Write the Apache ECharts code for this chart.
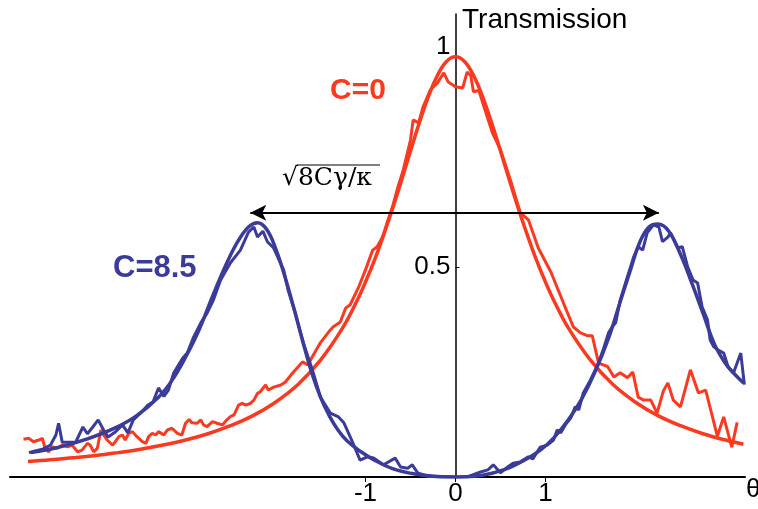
<!DOCTYPE html>
<html><head><meta charset="utf-8">
<script src="https://cdn.jsdelivr.net/npm/echarts@6/dist/echarts.min.js"></script>
<style>html,body{margin:0;padding:0;background:#fff}#c{width:758px;height:509px}</style>
</head><body><div id="c"></div>
<script>
// ---- data ----
const redFitTheta = [-4.75,-4.5,-4.25,-4.0,-3.75,-3.5,-3.25,-3.0,-2.75,-2.5,-2.25,-2.0,-1.75,-1.5,-1.25,-1.1,-1.0,-0.9,-0.8,-0.7,-0.6,-0.5,-0.4,-0.3,-0.2,-0.1,0,0.1,0.2,0.3,0.4,0.5,0.6,0.7,0.8,0.9,1.0,1.1,1.25,1.5,1.75,2.0,2.25,2.5,2.75,3.0,3.2];
const redFitT = [0.037,0.041,0.046,0.051,0.058,0.066,0.076,0.088,0.103,0.122,0.146,0.178,0.220,0.278,0.356,0.417,0.464,0.516,0.575,0.638,0.706,0.776,0.844,0.906,0.956,0.989,1.0,0.989,0.956,0.906,0.844,0.776,0.706,0.638,0.575,0.516,0.464,0.417,0.356,0.278,0.220,0.178,0.146,0.122,0.103,0.088,0.078];

const redDataTheta = [-4.80,-4.74,-4.69,-4.63,-4.59,-4.56,-4.52,-4.48,-4.43,-4.37,-4.31,-4.26,-4.20,-4.15,-4.09,-4.06,-4.02,-3.98,-3.94,-3.91,-3.87,-3.81,-3.78,-3.74,-3.70,-3.67,-3.63,-3.59,-3.54,-3.48,-3.44,-3.41,-3.37,-3.33,-3.30,-3.24,-3.20,-3.15,-3.09,-3.04,-3.00,-2.96,-2.93,-2.87,-2.83,-2.80,-2.76,-2.70,-2.65,-2.59,-2.54,-2.50,-2.46,-2.41,-2.37,-2.33,-2.28,-2.24,-2.20,-2.17,-2.11,-2.08,-2.02,-1.94,-1.89,-1.80,-1.70,-1.64,-1.59,-1.50,-1.41,-1.36,-1.28,-1.22,-1.17,-1.08,-1.00,-0.92,-0.87,-0.81,-0.76,-0.70,-0.64,-0.58,-0.50,-0.47,-0.41,-0.36,-0.28,-0.20,-0.13,-0.08,0,0.08,0.13,0.17,0.20,0.26,0.31,0.41,0.50,0.61,0.72,0.81,0.92,1.06,1.20,1.31,1.39,1.47,1.52,1.59,1.69,1.76,1.83,1.91,1.97,2.03,2.09,2.17,2.24,2.31,2.36,2.42,2.50,2.61,2.70,2.78,2.91,2.98,3.07,3.13];
const redDataT = [0.090,0.092,0.084,0.088,0.092,0.068,0.060,0.072,0.068,0.076,0.072,0.076,0.060,0.064,0.080,0.076,0.060,0.068,0.112,0.100,0.088,0.076,0.084,0.096,0.100,0.088,0.104,0.108,0.096,0.084,0.080,0.096,0.104,0.100,0.108,0.100,0.112,0.116,0.104,0.100,0.128,0.137,0.129,0.128,0.136,0.124,0.120,0.132,0.128,0.124,0.136,0.144,0.148,0.171,0.175,0.171,0.175,0.183,0.199,0.203,0.219,0.207,0.214,0.219,0.226,0.250,0.274,0.267,0.286,0.320,0.345,0.357,0.369,0.402,0.410,0.450,0.493,0.540,0.548,0.571,0.605,0.643,0.690,0.731,0.802,0.850,0.843,0.881,0.921,0.938,0.962,0.940,0.929,0.926,0.964,0.955,0.917,0.920,0.886,0.819,0.779,0.707,0.629,0.612,0.545,0.488,0.414,0.357,0.343,0.336,0.336,0.271,0.263,0.238,0.248,0.236,0.250,0.190,0.183,0.183,0.152,0.205,0.224,0.183,0.167,0.255,0.200,0.207,0.097,0.143,0.071,0.130];

const blueFitTheta = [-4.72,-4.4,-4.1,-3.8,-3.55,-3.3,-3.15,-3.0,-2.85,-2.7,-2.55,-2.42,-2.3,-2.2,-2.1,-2.0,-1.9,-1.8,-1.7,-1.6,-1.5,-1.4,-1.3,-1.2,-1.05,-0.9,-0.7,-0.45,-0.2,0.05,0.3,0.55,0.75,0.95,1.1,1.25,1.4,1.55,1.7,1.82,1.94,2.05,2.15,2.25,2.37,2.5,2.62,2.75,2.88,3.0,3.1,3.2];
const blueFitT = [0.058,0.071,0.090,0.115,0.145,0.190,0.230,0.285,0.350,0.430,0.505,0.560,0.595,0.605,0.590,0.545,0.480,0.405,0.325,0.250,0.190,0.145,0.110,0.085,0.060,0.040,0.020,0.007,0.001,0.000,0.004,0.018,0.038,0.065,0.095,0.135,0.185,0.250,0.330,0.410,0.490,0.560,0.595,0.602,0.585,0.530,0.465,0.390,0.315,0.270,0.245,0.224];

const blueDataTheta = [-4.74,-4.67,-4.59,-4.50,-4.44,-4.41,-4.37,-4.30,-4.22,-4.14,-4.09,-4.03,-3.97,-3.91,-3.86,-3.78,-3.70,-3.64,-3.58,-3.50,-3.42,-3.36,-3.30,-3.24,-3.19,-3.13,-3.03,-2.98,-2.91,-2.83,-2.76,-2.69,-2.61,-2.50,-2.39,-2.30,-2.24,-2.20,-2.14,-2.09,-2.02,-1.91,-1.86,-1.78,-1.69,-1.59,-1.50,-1.39,-1.30,-1.24,-1.14,-1.06,-0.98,-0.91,-0.80,-0.67,-0.61,-0.53,-0.48,-0.42,-0.31,-0.17,0,0.13,0.28,0.36,0.42,0.50,0.58,0.64,0.72,0.81,0.86,0.94,1.02,1.09,1.13,1.17,1.22,1.28,1.33,1.37,1.42,1.50,1.58,1.64,1.70,1.74,1.78,1.83,1.91,1.98,2.03,2.08,2.13,2.20,2.26,2.30,2.36,2.39,2.47,2.52,2.58,2.64,2.69,2.74,2.80,2.83,2.87,2.92,2.98,3.03,3.09,3.17,3.21];
const blueDataT = [0.058,0.062,0.066,0.076,0.100,0.128,0.083,0.083,0.083,0.119,0.103,0.119,0.136,0.112,0.095,0.107,0.124,0.105,0.136,0.152,0.171,0.179,0.212,0.192,0.207,0.248,0.283,0.295,0.333,0.367,0.390,0.421,0.469,0.510,0.540,0.583,0.595,0.571,0.585,0.560,0.545,0.493,0.445,0.390,0.319,0.255,0.190,0.152,0.143,0.129,0.081,0.040,0.048,0.045,0.029,0.045,0.024,0.021,0.029,0.010,0.002,0.000,0.000,0.000,0.012,0.017,0.029,0.010,0.024,0.033,0.036,0.048,0.043,0.071,0.076,0.088,0.112,0.105,0.124,0.140,0.167,0.160,0.200,0.231,0.267,0.302,0.343,0.357,0.367,0.421,0.476,0.524,0.548,0.540,0.581,0.600,0.595,0.560,0.571,0.581,0.545,0.548,0.500,0.469,0.462,0.405,0.374,0.326,0.310,0.302,0.295,0.262,0.248,0.295,0.220];

const xTickValues = [-1, 0, 1];
const yTickValues = [0.5, 1];
const splitEnds = [-2.28, 2.26];
const splitLevel = 0.629;

// ---- chart ----
const RED = '#f93a20', BLUE = '#3b3b99';
const zip = (a, b) => a.map((v, i) => [v, b[i]]);
const chart = echarts.init(document.getElementById('c'), null, {renderer: 'canvas'});
const FONT = 'Liberation Sans';
const X_MIN = -4.95, X_MAX = 3.217, GRID_LEFT = 10, GRID_RIGHT = 13;
const plotW = 758 - GRID_LEFT - GRID_RIGHT;
// place y axis at theta = 0
const yAxisOffset = -plotW * (0 - X_MIN) / (X_MAX - X_MIN);
chart.setOption({
  animation: false,
  grid: {left: GRID_LEFT, right: GRID_RIGHT, top: 14, bottom: 32, containLabel: false, outerBoundsMode: 'none'},
  xAxis: {
    type: 'value', min: X_MIN, max: X_MAX,
    name: 'θ', nameLocation: 'end', nameGap: 1,
    nameTextStyle: {fontSize: 26, fontFamily: FONT, color: '#000', verticalAlign: 'top', align: 'left'},
    axisLine: {lineStyle: {color: '#000', width: 2}},
    axisTick: {show: true, length: 5, customValues: xTickValues, lineStyle: {color: '#000', width: 1}},
    axisLabel: {customValues: xTickValues, fontSize: 26, fontFamily: FONT, color: '#000', margin: 4},
    splitLine: {show: false}
  },
  yAxis: {
    type: 'value', min: 0, max: 1.102, offset: yAxisOffset,
    axisLine: {show: true, onZero: false, lineStyle: {color: '#000', width: 1.5}},
    axisTick: {show: true, inside: true, length: 4, customValues: yTickValues, lineStyle: {color: '#000', width: 1}},
    axisLabel: {
      customValues: yTickValues, fontSize: 26, fontFamily: FONT, color: '#000', margin: 5,
      formatter: v => v === 1 ? '{one|1}' : String(v),
      rich: {one: {fontSize: 26, fontFamily: FONT, color: '#000', padding: [0, 0, 20, 0]}}
    },
    splitLine: {show: false}
  },
  graphic: [
    {type: 'text', left: 462, top: 6, style: {text: 'Transmission', font: '28px "Liberation Sans"', fill: '#000'}},
    {type: 'text', left: 330, top: 76, style: {text: 'C=0', font: 'bold 30px "Liberation Sans"', fill: RED}},
    {type: 'text', left: 113, top: 253, style: {text: 'C=8.5', font: 'bold 31px "Liberation Sans"', fill: BLUE}},
    {type: 'text', left: 282, top: 166, style: {text: '√8Cγ/κ', font: '25px "DejaVu Serif"', fill: '#000'}},
    {type: 'line', shape: {x1: 297, y1: 165, x2: 380, y2: 165}, style: {stroke: '#000', lineWidth: 1}}
  ],
  series: [
    {type: 'line', name: 'redData', data: zip(redDataTheta, redDataT), showSymbol: false, smooth: false,
      lineStyle: {color: RED, width: 3}, itemStyle: {color: RED}, z: 2},
    {type: 'line', name: 'redFit', data: zip(redFitTheta, redFitT), showSymbol: false, smooth: 0.4,
      lineStyle: {color: RED, width: 3.5}, itemStyle: {color: RED}, z: 3,
      markLine: {
        silent: true, symbol: ['arrow', 'arrow'], symbolSize: [12, 16],
        label: {show: false}, lineStyle: {color: '#000', width: 2, type: 'solid'},
        emphasis: {disabled: true},
        data: [[{coord: [splitEnds[0], splitLevel]}, {coord: [splitEnds[1], splitLevel]}]]
      }},
    {type: 'line', name: 'blueData', data: zip(blueDataTheta, blueDataT), showSymbol: false, smooth: false,
      lineStyle: {color: BLUE, width: 3}, itemStyle: {color: BLUE}, z: 4},
    {type: 'line', name: 'blueFit', data: zip(blueFitTheta, blueFitT), showSymbol: false, smooth: 0.4,
      lineStyle: {color: BLUE, width: 3.5}, itemStyle: {color: BLUE}, z: 5}
  ]
});
</script></body></html>
